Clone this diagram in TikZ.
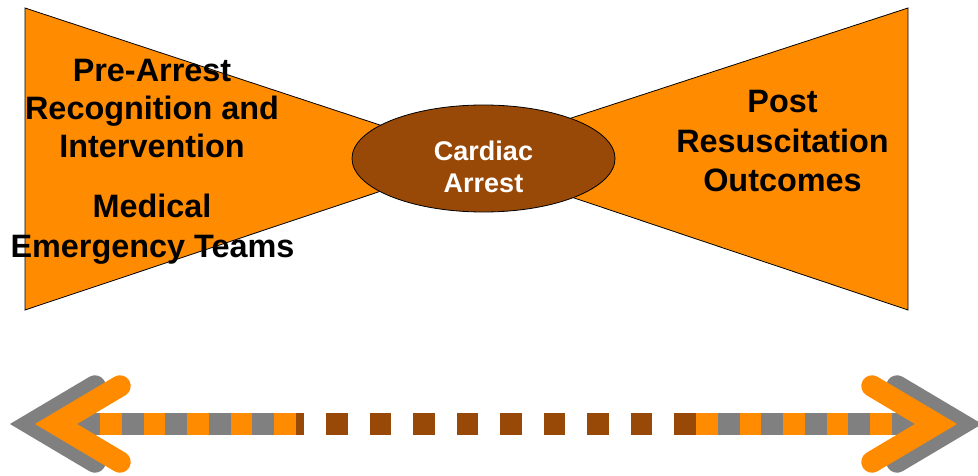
\documentclass[tikz,border=0pt]{standalone}
\usepackage{fontspec}
\setmainfont{Liberation Sans}
\usetikzlibrary{shapes.geometric}
\definecolor{borange}{RGB}{255,140,0}
\definecolor{bbrown}{RGB}{153,73,7}
\definecolor{bgray}{RGB}{128,128,128}
\tikzset{
  wing/.style={draw=black, line width=0.8pt, fill=borange, line join=miter},
  bigtxt/.style={anchor=base, inner sep=0pt, font=\fontsize{32.4}{39}\selectfont\bfseries, text=black},
  midtxt/.style={anchor=base, inner sep=0pt, font=\fontsize{27}{32}\selectfont\bfseries, text=white},
  chev/.style={line width=21.5pt, line cap=round, line join=miter},
  sq/.style={inner sep=0pt, outer sep=0pt, minimum height=22pt, minimum width=21.75pt, anchor=west}
}
\begin{document}
\begin{tikzpicture}[x=1pt, y=-1pt]
\useasboundingbox (0,0) rectangle (978,476);
\clip (0,0) rectangle (978,476);
% wings
\draw[wing] (25,8) -- (480,158) -- (25,310) -- cycle;
\draw[wing] (908,8) -- (452,157) -- (908,310) -- cycle;
\node[draw=black, line width=0.8pt, fill=bbrown, ellipse, minimum width=263pt, minimum height=107pt, inner sep=0pt] (ca) at (483.5,158.5) {};
% left texts
\node[bigtxt] (l1) at (152,82) {Pre-Arrest};
\node[bigtxt] (l2) at (152,120) {Recognition and};
\node[bigtxt] (l3) at (152,158) {Intervention};
\node[bigtxt] (l4) at (152,218) {Medical};
\node[bigtxt] (l5) at (152.5,258) {Emergency Teams};
% right texts
\node[bigtxt] (r1) at (782.5,113) {Post};
\node[bigtxt] (r2) at (782.5,153) {Resuscitation};
\node[bigtxt] (r3) at (782.5,192) {Outcomes};
% centre texts
\node[midtxt] (c1) at (483.5,161) {Cardiac};
\node[midtxt] (c2) at (483.5,193) {Arrest};
% bottom arrow
\coordinate (gl1) at (95,386); \coordinate (gl2) at (31,424); \coordinate (gl3) at (95,462);
\coordinate (gr1) at (897,386); \coordinate (gr2) at (961,424); \coordinate (gr3) at (897,462);
\coordinate (ol1) at (120,386); \coordinate (ol2) at (56,424); \coordinate (ol3) at (120,462);
\coordinate (or1) at (872,386); \coordinate (or2) at (936,424); \coordinate (or3) at (872,462);
\draw[chev, bgray] (gl1) -- (gl2) -- (gl3);
\draw[chev, bgray] (gr1) -- (gr2) -- (gr3);
\coordinate (bl0) at (70,424); \coordinate (bl1) at (296,424);
\coordinate (br0) at (696,424); \coordinate (br1) at (920,424);
\draw[bgray, line width=22pt] (bl0) -- (bl1);
\draw[bgray, line width=22pt] (br0) -- (br1);
\foreach \k in {0,...,9} {
  \node[sq, fill=bbrown] (bs\k) at ({282.5+43.5*\k},424) {};
}
\foreach \k in {0,...,4} {
  \node[sq, fill=borange] (ls\k) at ({100+43.5*\k},424) {};
  \node[sq, fill=borange] (rs\k) at ({696+43.5*\k},424) {};
}
\draw[chev, borange] (ol1) -- (ol2) -- (ol3);
\draw[chev, borange] (or1) -- (or2) -- (or3);
\end{tikzpicture}
\end{document}
